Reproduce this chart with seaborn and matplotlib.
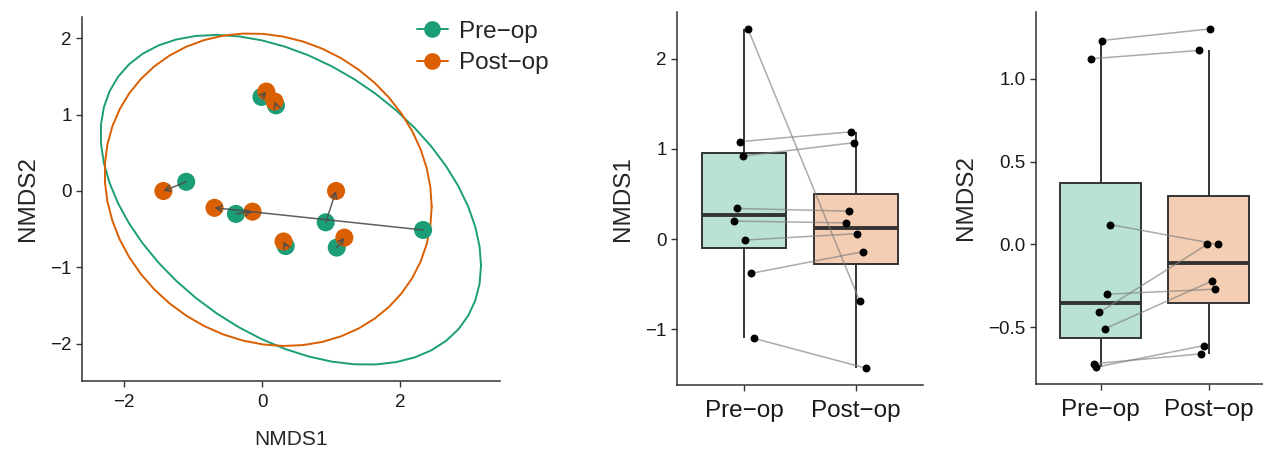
import numpy as np
import pandas as pd
import matplotlib
matplotlib.use("Agg")
import matplotlib.pyplot as plt
from matplotlib.lines import Line2D
import seaborn as sns

# paired NMDS scores for 8 subjects (pre-op / post-op)
subjects = ["S1", "S2", "S3", "S4", "S5", "S6", "S7", "S8"]
pre_nmds1 = [2.33, 1.08, 0.92, 0.34, 0.20, -0.01, -0.38, -1.10]
pre_nmds2 = [-0.51, -0.74, -0.41, -0.72, 1.12, 1.23, -0.30, 0.12]
post_nmds1 = [-0.69, 1.19, 1.07, 0.31, 0.18, 0.06, -0.14, -1.43]
post_nmds2 = [-0.22, -0.61, 0.00, -0.66, 1.17, 1.30, -0.27, 0.00]
# horizontal jitter of each subject's dots in the box panels
jitter = [0.035, -0.040, -0.013, -0.066, -0.089, 0.011, 0.062, 0.086]
groups = ["Pre\u2212op", "Post\u2212op"]
colors = {"Pre\u2212op": "#1B9E77", "Post\u2212op": "#D95F02"}

df = pd.DataFrame({
    "subject": subjects * 2,
    "group": [groups[0]] * 8 + [groups[1]] * 8,
    "NMDS1": pre_nmds1 + post_nmds1,
    "NMDS2": pre_nmds2 + post_nmds2,
    "jit": jitter * 2,
})
df["xpos"] = df["group"].map({groups[0]: 0, groups[1]: 1}) + df["jit"]

sns.set_theme(style="ticks")
plt.rcParams["font.family"] = ["Liberation Sans", "DejaVu Sans"]
INK = "#333333"


def cov_trob(X, nu=5, maxit=25, tol=0.01):
    # robust t-distribution covariance (same idea as MASS::cov.trob)
    n, p = X.shape
    wt = np.ones(n)
    loc = X.mean(axis=0)
    w = np.sqrt(wt)
    Xc = X - loc
    for _ in range(maxit):
        w0 = w
        Xc = X - loc
        _, d, vt = np.linalg.svd(np.sqrt(w / w.sum())[:, None] * Xc, full_matrices=False)
        wX = Xc @ vt.T @ np.diag(1 / d)
        Q = (wX ** 2).sum(axis=1)
        w = wt * (nu + p) / (nu + Q)
        loc = (w[:, None] * X).sum(axis=0) / w.sum()
        if np.all(np.abs(w - w0) < tol):
            break
    sw = np.sqrt(w)[:, None] * Xc
    return loc, sw.T @ sw / wt.sum()


def ellipse_path(X, f_quantile=4.737414, segments=51):
    center, shape = cov_trob(X)
    R = np.linalg.cholesky(shape).T
    radius = np.sqrt(2 * f_quantile)
    ang = np.linspace(0, 2 * np.pi, segments + 1)
    circle = np.column_stack([np.cos(ang), np.sin(ang)])
    return center + radius * circle @ R


def style_axis(ax):
    sns.despine(ax=ax)
    for s in ["left", "bottom"]:
        ax.spines[s].set_color(INK)
        ax.spines[s].set_linewidth(1.1)
    ax.tick_params(axis="both", colors=INK, labelcolor="#1a1a1a", length=4, width=1.0, direction="out")


fig = plt.figure(figsize=(12.63, 4.49), dpi=100)

# ---- NMDS ordination panel
ax1 = fig.add_axes([0.0649, 0.1514, 0.331, 0.8107])
for g in groups:
    sub = df[df["group"] == g]
    pts = ellipse_path(sub[["NMDS1", "NMDS2"]].to_numpy())
    ax1.plot(pts[:, 0], pts[:, 1], color=colors[g], lw=1.4, zorder=1)
sns.scatterplot(data=df, x="NMDS1", y="NMDS2", hue="group", palette=colors,
                s=170, edgecolor="none", legend=False, ax=ax1, zorder=2)
for a1, a2, b1, b2 in zip(pre_nmds1, pre_nmds2, post_nmds1, post_nmds2):
    ax1.annotate("", xy=(b1, b2), xytext=(a1, a2), zorder=3,
                 arrowprops=dict(arrowstyle="->,head_length=0.35,head_width=0.18",
                                 color="#4d4d4d", lw=1.1, shrinkA=0, shrinkB=0, alpha=0.9))
ax1.margins(0.05)
ax1.set_xticks([-2, 0, 2])
ax1.set_xticklabels(["\u22122", "0", "2"])
ax1.set_yticks([-2, -1, 0, 1, 2])
ax1.set_yticklabels(["\u22122", "\u22121", "0", "1", "2"])
ax1.set_xlabel("NMDS1", fontsize=15, labelpad=14)
ax1.set_ylabel("NMDS2", fontsize=17.5, labelpad=8)
ax1.tick_params(labelsize=13.5)
ax1.tick_params(axis="x", pad=5)
style_axis(ax1)

handles = [Line2D([0], [0], color=colors[g], lw=1.4, marker="o", markersize=12,
                  markeredgewidth=0) for g in groups]
fig.legend(handles, groups, loc="upper left", bbox_to_anchor=(0.3125, 1.003),
           frameon=False, fontsize=17.5, handlelength=1.3, handletextpad=0.45,
           labelspacing=0.4)

# ---- box panels
box_axes = [fig.add_axes([0.536, 0.1425, 0.1948, 0.8307]),
            fig.add_axes([0.8203, 0.1448, 0.1797, 0.8285])]
for ax, col in zip(box_axes, ["NMDS1", "NMDS2"]):
    sns.boxplot(data=df, x="group", y=col, hue="group", order=groups, palette=colors,
                saturation=1, width=0.75, showfliers=False, showcaps=False, legend=False, ax=ax,
                boxprops=dict(edgecolor=INK, linewidth=1.4),
                whiskerprops=dict(color=INK, linewidth=1.4),
                medianprops=dict(color=INK, linewidth=2.8), zorder=1)
    for patch in ax.patches:
        fc = patch.get_facecolor()
        patch.set_facecolor((fc[0], fc[1], fc[2], 0.3))
        patch.set_edgecolor(INK)
    for s in subjects:
        pair = df[df["subject"] == s]
        ax.plot(pair["xpos"], pair[col], color="#7f7f7f", lw=1.1, alpha=0.65, zorder=2)
    ax.scatter(df["xpos"], df[col], s=22, color="black", zorder=3)
    ax.set_xlabel("")
    ax.set_ylabel(col, fontsize=17.5, labelpad=8)
    ax.tick_params(axis="x", labelsize=17.5, pad=7)
    ax.tick_params(axis="y", labelsize=13.5)
    style_axis(ax)
    ax.margins(y=0.05)

box_axes[0].set_xlim(-0.6, 1.6)
box_axes[0].set_yticks([-1, 0, 1, 2])
box_axes[0].set_yticklabels(["\u22121", "0", "1", "2"])
box_axes[1].set_xlim(-0.6, 1.505)
box_axes[1].set_yticks([-0.5, 0.0, 0.5, 1.0])
box_axes[1].set_yticklabels(["\u22120.5", "0.0", "0.5", "1.0"])

fig.savefig("out.png", dpi=100, facecolor="white")
